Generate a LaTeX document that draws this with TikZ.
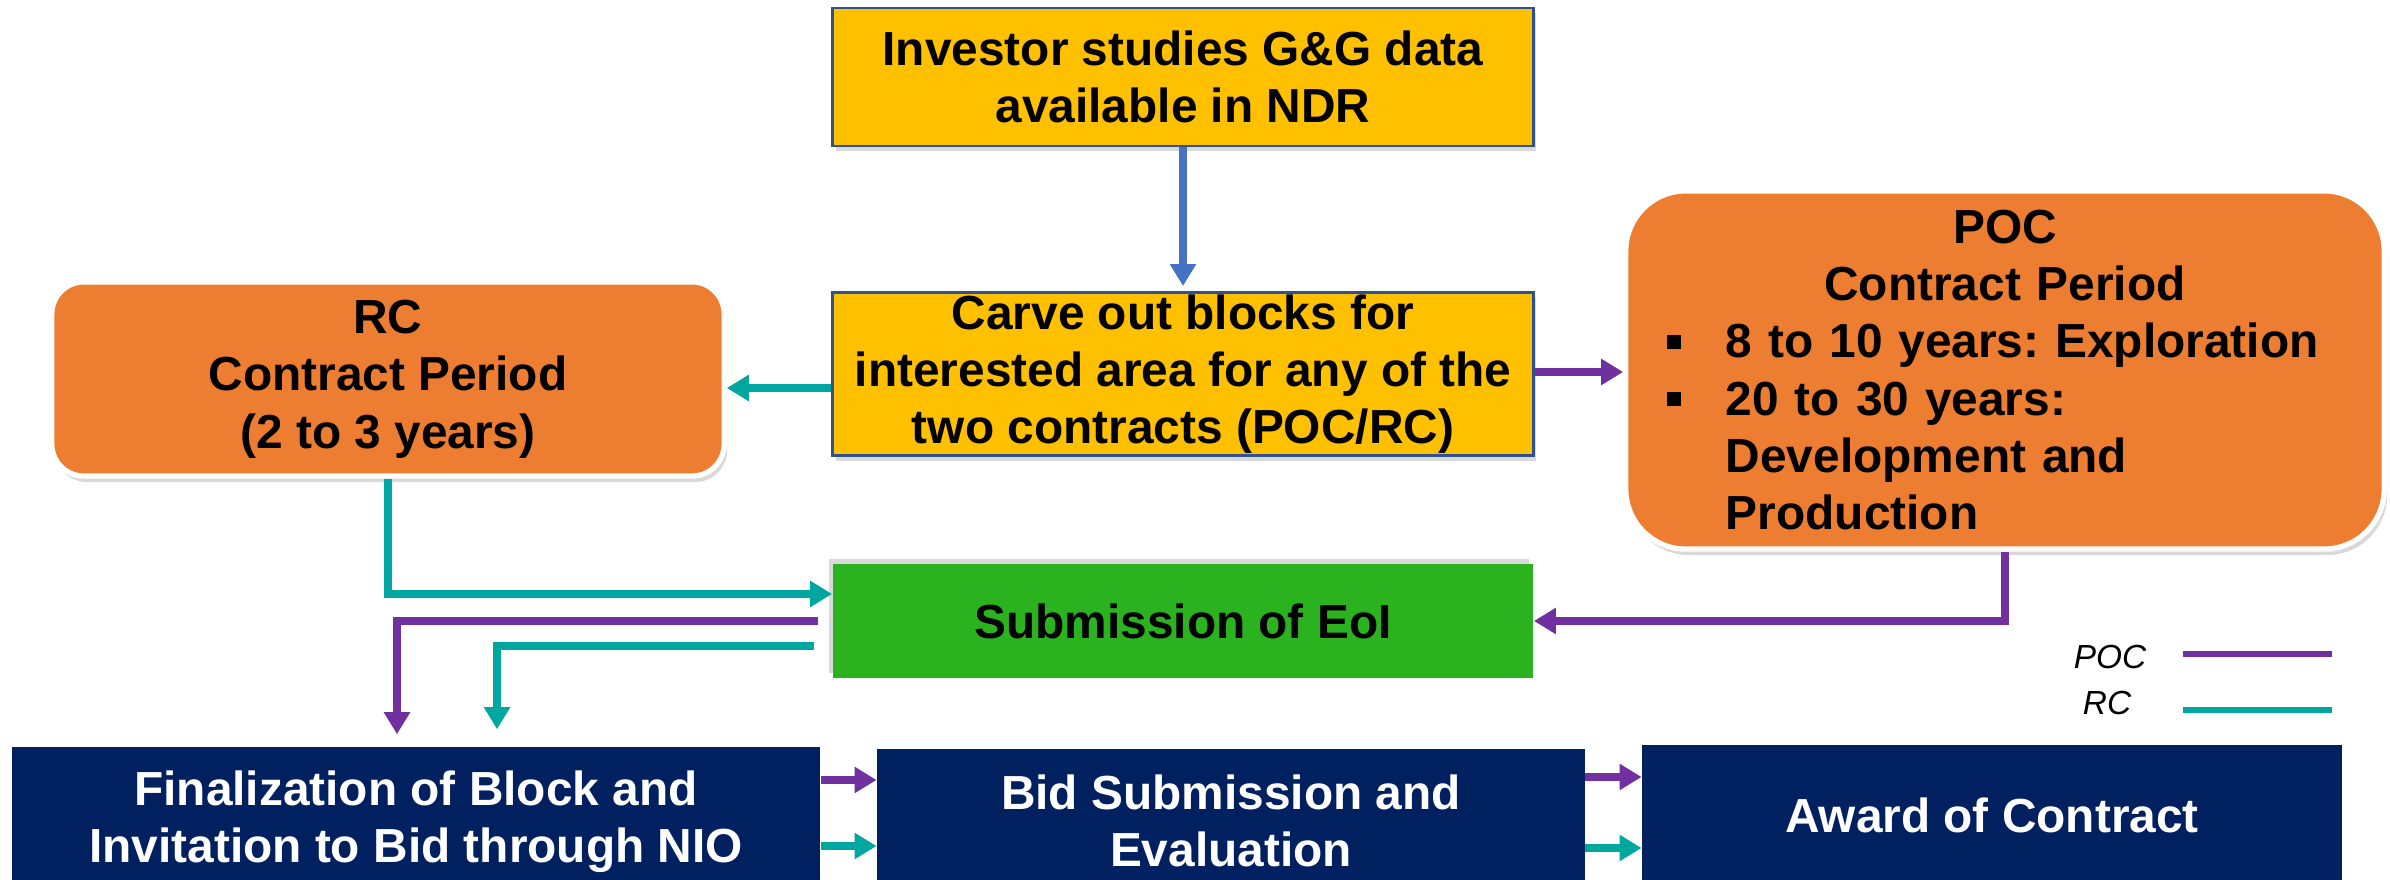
\documentclass[tikz,border=0pt]{standalone}
\usepackage{fontspec}
\setmainfont{Liberation Sans}
\usetikzlibrary{arrows.meta,shadows}

\definecolor{ggyellow}{HTML}{FFC000}
\definecolor{ggedge}{HTML}{2F528F}
\definecolor{ctorange}{HTML}{ED7D31}
\definecolor{eoigreen}{HTML}{2AB31F}
\definecolor{bidnavy}{HTML}{002060}
\definecolor{pocpurple}{HTML}{7030A0}
\definecolor{rcteal}{HTML}{00A6A0}
\definecolor{flowblue}{HTML}{4472C4}

\newcommand{\pocbullet}{\makebox[0.59cm][l]{\rule[0.09cm]{0.14cm}{0.14cm}}}
\frenchspacing

\begin{document}
\begin{tikzpicture}[
  x=0.01cm, y=-0.01cm,
  box/.style={
    inner sep=0pt, align=center,
    font=\fontsize{13.6}{16.3}\selectfont\bfseries
  },
  study/.style={
    box, draw=ggedge, fill=ggyellow, line width=0.8pt, minimum width=7cm,
    drop shadow={shadow xshift=0.03cm, shadow yshift=-0.05cm, opacity=0.3}
  },
  contract/.style={
    box, draw=white, fill=ctorange, line width=1.5pt,
    drop shadow={shadow xshift=0.03cm, shadow yshift=-0.06cm, opacity=0.3}
  },
  eoi/.style={
    box, fill=eoigreen, minimum width=7cm, minimum height=1.14cm,
    drop shadow={shadow xshift=-0.04cm, shadow yshift=0.05cm, opacity=0.3}
  },
  stage/.style={
    box, fill=bidnavy, text=white
  },
  key/.style={
    font=\fontsize{9.5}{11}\selectfont\itshape
  },
  flow/.style={
    draw=flowblue, line width=2.2pt, -{Triangle[length=0.22cm,width=0.25cm]}
  },
  pocline/.style={
    draw=pocpurple, line width=2.2pt, -{Triangle[length=0.22cm,width=0.25cm]}
  },
  rcline/.style={
    draw=rcteal, line width=2.2pt, -{Triangle[length=0.22cm,width=0.25cm]}
  }
]

\useasboundingbox (0,0) rectangle (2390,880);
\clip (0,0) rectangle (2390,880);

% Study and carve out
\node[study, minimum height=1.38cm] (invest) at (1183,77) {Investor studies G\&G data\\available in NDR};
\node[study, minimum height=1.63cm] (carve) at (1183,374) {Carve out blocks for\\interested area for any of the\\two contracts (POC/RC)};

% Contract types
\node[contract, minimum width=6.72cm, minimum height=1.94cm, rounded corners=0.32cm] (rc) at (388,379) {RC\\Contract Period\\(2 to 3 years)};
\node[contract, minimum width=7.58cm, minimum height=3.58cm, rounded corners=0.6cm, text width=6.76cm, align=left] (poc) at (2005,370) {\makebox[\linewidth]{POC}\\\makebox[\linewidth]{Contract Period}\\\pocbullet 8 to 10 years: Exploration\\\pocbullet 20 to 30 years:\\\hspace*{0.59cm}Development and\\\hspace*{0.59cm}Production};

% EoI
\node[eoi] (eoi) at (1183,621) {Submission of EoI};

% Bid stages
\node[stage, minimum width=8.08cm, minimum height=1.50cm] (fin) at (416,822) {Finalization of Block and\\Invitation to Bid through NIO};
\node[stage, minimum width=7.07cm, minimum height=1.44cm] (bid) at (1231,821) {Bid Submission and\\Evaluation};
\node[stage, minimum width=6.99cm, minimum height=1.40cm] (award) at (1992,815) {Award of Contract};

% Legend
\node[key] (pockey) at (2110,657) {POC};
\node[key] (rckey) at (2107,703) {RC};
\coordinate (pocA) at (2183,654);
\coordinate (pocB) at (2332,654);
\coordinate (rcA) at (2183,710);
\coordinate (rcB) at (2332,710);
\draw[pocpurple, line width=1.6pt] (pocA) -- (pocB);
\draw[rcteal, line width=1.6pt] (rcA) -- (rcB);

% Arrows
\draw[flow, shorten >=0.05cm] (invest.south) -- (carve.north);
\draw[rcline] ([yshift=-0.14cm]carve.west) -- ([yshift=-0.14cm]carve.west -| rc.east);
\draw[pocline] ([yshift=0.02cm]carve.east) -- ([yshift=0.02cm]carve.east -| poc.west);
\draw[rcline] (rc.south) |- ([yshift=0.27cm]eoi.west);
\draw[pocline] (poc.south) |- (eoi.east);
\draw[pocline, shorten <=0.14cm, shorten >=0.12cm] (eoi.west) -| ([xshift=-0.19cm]fin.north);
\draw[rcline, shorten <=0.18cm, shorten >=0.17cm] ([yshift=-0.25cm]eoi.west) -| ([xshift=0.81cm]fin.north);
\draw[pocline] ([yshift=0.42cm]fin.east) -- ([yshift=0.42cm]fin.east -| bid.west);
\draw[rcline] ([yshift=-0.24cm]fin.east) -- ([yshift=-0.24cm]fin.east -| bid.west);
\draw[pocline] ([yshift=0.44cm]bid.east) -- ([yshift=0.44cm]bid.east -| award.west);
\draw[rcline] ([yshift=-0.27cm]bid.east) -- ([yshift=-0.27cm]bid.east -| award.west);

\end{tikzpicture}
\end{document}
